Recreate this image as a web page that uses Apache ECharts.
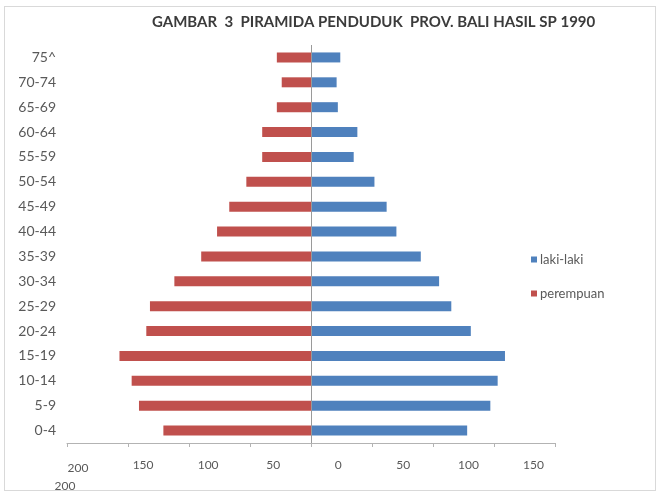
<!DOCTYPE html>
<html>
<head>
<meta charset="utf-8">
<script src="https://cdn.jsdelivr.net/npm/echarts@6/dist/echarts.min.js"></script>
<style>
html,body{margin:0;padding:0;background:#fff;}
#c{width:659px;height:492px;position:absolute;left:0;top:0;}
#frame{position:absolute;left:4px;top:6px;width:650px;height:483px;border:1px solid #d9d9d9;pointer-events:none;}
</style>
</head>
<body>
<div id="frame"></div>
<div id="c"></div>
<script>
const titleText = 'GAMBAR  3  PIRAMIDA PENDUDUK  PROV. BALI HASIL SP 1990';
const categories = ['0-4','5-9','10-14','15-19','20-24','25-29','30-34','35-39','40-44','45-49','50-54','55-59','60-64','65-69','70-74','75^'];
const lakiLaki = [128,147,153,159,131,115,105,90,70,62,52,35,38,22,21,24];
const perempuan = [121,141,147,157,135,132,112,90,77,67,53,40,40,28,24,28];
const tickLabels = ['200','150','100','50','0','50','100','150'];
const wrappedLabel = '200';

const chart = echarts.init(document.getElementById('c'));
const font = 'Lato, "Open Sans", sans-serif';
chart.setOption({
  animation: false,
  backgroundColor: 'transparent',
  title: {
    text: titleText,
    left: 147, top: 10,
    textStyle: {fontFamily: font, fontSize: 15, fontWeight: 'bold', color: '#3b3b3b'}
  },
  legend: {
    data: ['laki-laki','perempuan'],
    orient: 'vertical',
    left: 526, top: 248,
    itemWidth: 6, itemHeight: 6, itemGap: 21,
    icon: 'rect',
    textStyle: {fontFamily: font, fontSize: 13, color: '#595959', padding: [0,0,0,-2]}
  },
  grid: {left: 67, right: 104, top: 45, bottom: 47},
  xAxis: [{
    type: 'value', min: -200, max: 200, interval: 50,
    axisLine: {show: true, lineStyle: {color: '#b3b3b3'}},
    axisTick: {show: true, length: 4, lineStyle: {color: '#b3b3b3'}},
    axisLabel: {show: false},
    splitLine: {show: false}
  }, {
    type: 'value', min: 0, max: 7.5, interval: 1, position: 'bottom',
    axisLine: {show: false}, axisTick: {show: false}, splitLine: {show: false},
    axisLabel: {
      show: true, margin: 16, showMinLabel: true,
      fontFamily: font, fontSize: 12, color: '#595959',
      padding: [0,0,0,22],
      formatter: function (v) {
        if (Math.abs(v - Math.round(v)) > 1e-6) return '';
        const i = Math.round(v);
        if (i === 0) return '{a|' + tickLabels[0] + '}\n{b|' + wrappedLabel + '}';
        return tickLabels[i] || '';
      },
      rich: {
        a: {fontFamily: font, fontSize: 12, color: '#595959', lineHeight: 18},
        b: {fontFamily: font, fontSize: 12, color: '#595959', lineHeight: 18, padding: [0,26,0,0]}
      }
    }
  }],
  yAxis: {
    type: 'category', data: categories,
    axisLine: {show: false}, axisTick: {show: false},
    axisLabel: {fontFamily: font, fontSize: 14, color: '#595959', margin: 11}
  },
  series: [{
    name: 'laki-laki', type: 'bar', stack: 'p', barWidth: 10,
    xAxisIndex: 0,
    itemStyle: {color: '#4F81BD'},
    data: lakiLaki
  }, {
    name: 'perempuan', type: 'bar', stack: 'p', barWidth: 10,
    xAxisIndex: 0,
    itemStyle: {color: '#C0504D'},
    data: perempuan.map(v => -v),
    markLine: {
      silent: true, symbol: 'none', label: {show: false},
      lineStyle: {color: '#9a9a9a', width: 1, type: 'solid'},
      data: [{xAxis: 0}]
    }
  }]
});
</script>
</body>
</html>
